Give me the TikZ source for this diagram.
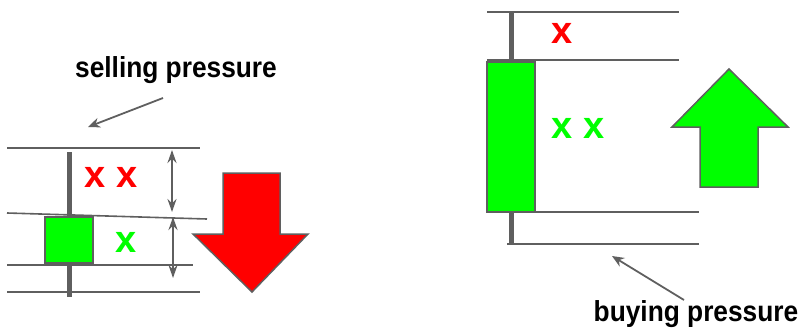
\documentclass[tikz,border=0pt]{standalone}
\usepackage{fontspec}
\setmainfont{Liberation Sans}
\usetikzlibrary{arrows.meta}
\definecolor{lg}{HTML}{5F5F5F}
\definecolor{cgreen}{HTML}{00FF00}
\definecolor{cred}{HTML}{FF0000}
\begin{document}
\begin{tikzpicture}[x=1pt,y=-1pt,
  rule/.style={draw=lg, line width=1.6pt},
  wick/.style={draw=lg, line width=5pt},
  body/.style={draw=lg, line width=1.8pt, fill=cgreen},
  bigarrow/.style={draw=lg, line width=1.5pt},
  crossmark/.style={anchor=base, inner sep=0pt, font=\bfseries\fontsize{38}{40}\selectfont},
  caption/.style={anchor=base, inner sep=0pt, font=\bfseries\fontsize{26.3}{28}\selectfont},
  pointer/.style={draw=lg, line width=1.8pt, -{Stealth[length=12pt,width=10pt]}},
  span/.style={draw=lg, line width=2.2pt, {Stealth[length=13pt,width=9pt]}-{Stealth[length=13pt,width=9pt]}}
]
\useasboundingbox (0,0) rectangle (803,327);

% ---------- left panel ----------
\draw[rule] (7,148) -- (200,148);
\draw[rule] (7,213) -- (207,219);
\draw[rule] (7,265) -- (193,265);
\draw[rule] (7,292) -- (200,292);
\draw[wick] (69,152) -- (69,297);
\draw[body] (45,217) rectangle (93,263);

\node[crossmark, text=cred] (lxx) at (111,187.5) {x x};
\node[crossmark, text=cgreen] (lx) at (126,252) {x};

\coordinate (s1a) at (172,150);
\coordinate (s1b) at (172,212);
\coordinate (s2a) at (173,217);
\coordinate (s2b) at (173,278);
\draw[span] (s1a) -- (s1b);
\draw[span] (s2a) -- (s2b);

\draw[bigarrow, fill=cred] (223,173) -- (280,173) -- (280,234) -- (308,234) -- (252,292) -- (193,234) -- (223,234) -- cycle;

\node[caption] (sell) at (176,77.7) {\scalebox{1}[1.1]{selling pressure}};
\coordinate (sellfrom) at (163,98);
\coordinate (sellto) at (88,127);
\draw[pointer] (sellfrom) -- (sellto);

% ---------- right panel ----------
\draw[rule] (487,12) -- (679,12);
\draw[rule] (487,60) -- (679,60);
\draw[rule] (535,212) -- (699,212);
\draw[rule] (507,244) -- (699,244);
\draw[wick] (511,12) -- (511,244);
\draw[body] (487,62) rectangle (535,212);

\node[crossmark, text=cred] (rx) at (562,43) {x};
\node[crossmark, text=cgreen] (rxx) at (578,138) {x x};

\draw[bigarrow, fill=cgreen] (729,69) -- (788,127) -- (758,127) -- (758,187) -- (700,187) -- (700,127) -- (672,127) -- cycle;

\node[caption] (buy) at (696,321.5) {\scalebox{1}[1.1]{buying pressure}};
\coordinate (buyfrom) at (684,300);
\coordinate (buyto) at (612,256);
\draw[pointer] (buyfrom) -- (buyto);
\end{tikzpicture}
\end{document}
